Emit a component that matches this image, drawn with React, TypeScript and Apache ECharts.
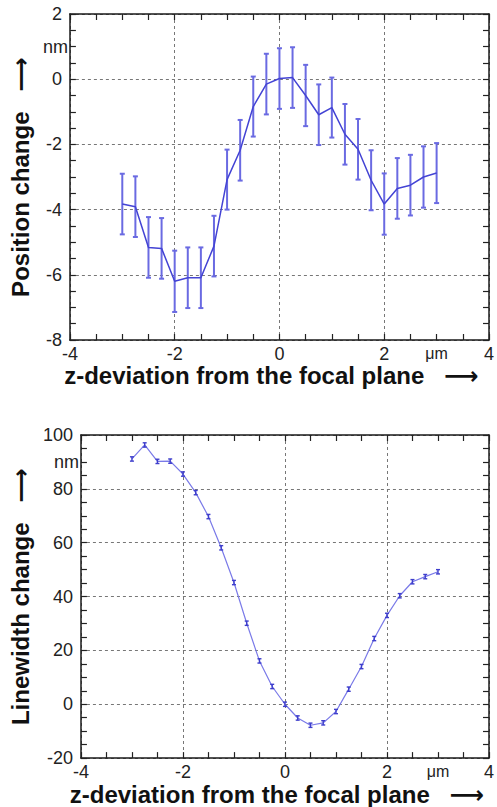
import React, { useEffect, useRef } from "react";
import * as echarts from "echarts";

const zValues = [-3, -2.75, -2.5, -2.25, -2, -1.75, -1.5, -1.25, -1, -0.75, -0.5, -0.25, 0, 0.25, 0.5, 0.75, 1, 1.25, 1.5, 1.75, 2, 2.25, 2.5, 2.75, 3];

const positionChange = [-3.83, -3.91, -5.16, -5.19, -6.2, -6.09, -6.09, -5.12, -3.08, -2.18, -0.84, -0.15, 0.02, 0.05, -0.5, -1.09, -0.87, -1.69, -2.15, -3.1, -3.83, -3.35, -3.25, -3.0, -2.88];
const positionError = [0.93, 0.93, 0.93, 0.93, 0.94, 0.93, 0.93, 0.93, 0.92, 0.93, 0.92, 0.93, 0.93, 0.93, 0.94, 0.93, 0.92, 0.93, 0.93, 0.92, 0.94, 0.93, 0.93, 0.94, 0.92];

const linewidthChange = [91.1, 96.3, 90.2, 90.3, 85.5, 78.6, 69.7, 58.1, 45.2, 30.1, 16.1, 6.6, 0.0, -5.1, -7.8, -6.9, -2.7, 5.6, 14.0, 24.4, 33.0, 40.3, 45.5, 47.4, 49.2];
const linewidthError = [0.8, 0.8, 0.8, 0.8, 0.8, 0.8, 0.8, 0.8, 0.8, 0.8, 0.8, 0.8, 0.8, 0.8, 0.8, 0.8, 0.8, 0.8, 0.8, 0.8, 0.8, 0.8, 0.8, 0.8, 0.8];

const xTickLabels = [-4, -2, 0, 2, 4];
const xUnitLabel = "μm";
const yUnitLabel = "nm";
const topYTickLabels = [-8, -6, -4, -2, 0, 2];
const bottomYTickLabels = [-20, 0, 20, 40, 60, 80, 100];

const FONT = "'Liberation Sans', Arial, 'DejaVu Sans', sans-serif";
const AXIS_COLOR = "#1a1a1a";
const TICK = { color: "#222", width: 1.2 };

function xAxesFor(gridIndex: number, name: string) {
  return [
    {
      type: "value",
      gridIndex,
      position: "bottom",
      min: -4,
      max: 4,
      interval: 0.5,
      name,
      nameLocation: "middle",
      nameGap: 19,
      nameTextStyle: { fontSize: 24, fontWeight: "bold", color: "#111", fontFamily: FONT, padding: [0, 16, 0, 0] },
      axisLine: { show: true, onZero: false, lineStyle: { color: AXIS_COLOR, width: 1.5 } },
      axisTick: { show: true, inside: true, length: 6, lineStyle: TICK },
      axisLabel: {
        margin: 5,
        fontSize: 18,
        color: "#222",
        fontFamily: FONT,
        formatter: (v: number) => {
          if (Math.abs(v - 3) < 1e-9) return "{u|" + xUnitLabel + "}";
          const hit = xTickLabels.find((t) => Math.abs(t - v) < 1e-9);
          return hit !== undefined ? String(hit) : "";
        },
        rich: { u: { fontSize: 16, color: "#222", fontFamily: FONT, padding: [0, 0, 4, 0] } },
      },
      splitLine: { show: false },
    },
    {
      type: "value",
      gridIndex,
      position: "top",
      min: -4,
      max: 4,
      interval: 2,
      axisLine: { show: true, onZero: false, lineStyle: { color: AXIS_COLOR, width: 1.5 } },
      axisTick: { show: true, inside: true, length: 6, lineStyle: TICK },
      minorTick: { show: true, splitNumber: 4, length: 6, lineStyle: TICK },
      axisLabel: { show: false },
      splitLine: { show: true, lineStyle: { color: "#777", type: [3, 3], width: 1 } },
    },
  ];
}

function yAxesFor(gridIndex: number, name: string, min: number, max: number, minor: number, major: number, labels: number[], unitValue: number) {
  return [
    {
      type: "value",
      gridIndex,
      position: "left",
      min,
      max,
      interval: minor,
      name,
      nameLocation: "middle",
      nameGap: 25,
      nameTextStyle: { fontSize: 24, fontWeight: "bold", color: "#111", fontFamily: FONT },
      axisLine: { show: true, onZero: false, lineStyle: { color: AXIS_COLOR, width: 1.5 } },
      axisTick: { show: true, inside: true, length: 6, lineStyle: TICK },
      axisLabel: {
        margin: 8,
        fontSize: 18,
        color: "#222",
        fontFamily: FONT,
        formatter: (v: number) => {
          if (Math.abs(v - unitValue) < 1e-9) return "{u|" + yUnitLabel + "}";
          const hit = labels.find((t) => Math.abs(t - v) < 1e-9);
          return hit !== undefined ? String(hit) : "";
        },
        rich: { u: { fontSize: 18, color: "#222", fontFamily: FONT, padding: [0, -6, 0, 0] } },
      },
      splitLine: { show: false },
    },
    {
      type: "value",
      gridIndex,
      position: "right",
      min,
      max,
      interval: major,
      axisLine: { show: true, onZero: false, lineStyle: { color: AXIS_COLOR, width: 1.5 } },
      axisTick: { show: true, inside: true, length: 6, lineStyle: TICK },
      minorTick: { show: true, splitNumber: 4, length: 6, lineStyle: TICK },
      axisLabel: { show: false },
      splitLine: { show: true, lineStyle: { color: "#777", type: [3, 3], width: 1 } },
    },
  ];
}

function errorRender(color: string, capHalf: number, width: number) {
  return (params: any, api: any) => {
    const x = api.value(0);
    const lo = api.coord([x, api.value(1)]);
    const hi = api.coord([x, api.value(2)]);
    const style = { stroke: color, lineWidth: width };
    return {
      type: "group",
      children: [
        { type: "line", shape: { x1: lo[0], y1: lo[1], x2: hi[0], y2: hi[1] }, style },
        { type: "line", shape: { x1: lo[0] - capHalf, y1: lo[1], x2: lo[0] + capHalf, y2: lo[1] }, style },
        { type: "line", shape: { x1: hi[0] - capHalf, y1: hi[1], x2: hi[0] + capHalf, y2: hi[1] }, style },
      ],
    };
  };
}

export default function App() {
  const ref = useRef<HTMLDivElement>(null);

  useEffect(() => {
    if (!ref.current) return;
    const chart = echarts.init(ref.current, null, { renderer: "svg" });

    const topLine = zValues.map((z, i) => [z, positionChange[i]]);
    const topErr = zValues.map((z, i) => [z, positionChange[i] - positionError[i], positionChange[i] + positionError[i]]);
    const botLine = zValues.map((z, i) => [z, linewidthChange[i]]);
    const botErr = zValues.map((z, i) => [z, linewidthChange[i] - linewidthError[i], linewidthChange[i] + linewidthError[i]]);

    chart.setOption({
      animation: false,
      backgroundColor: "#ffffff",
      grid: [
        { left: 61, top: 14, width: 433, height: 326, containLabel: false },
        { left: 63, top: 435, width: 431, height: 327, containLabel: false },
      ],
      xAxis: [
        ...xAxesFor(0, "z-deviation from the focal plane   ⟶"),
        ...xAxesFor(1, "z-deviation from the focal plane   ⟶"),
      ],
      yAxis: [
        ...yAxesFor(0, "Position change   ⟶", -8, 2, 0.5, 2, topYTickLabels, 1),
        ...yAxesFor(1, "Linewidth change   ⟶", -20, 100, 5, 20, bottomYTickLabels, 90),
      ],
      series: [
        {
          type: "custom",
          xAxisIndex: 0,
          yAxisIndex: 0,
          renderItem: errorRender("#6a6ae2", 2.5, 2),
          encode: { x: 0, y: [1, 2] },
          data: topErr,
          z: 2,
        },
        {
          type: "line",
          xAxisIndex: 0,
          yAxisIndex: 0,
          data: topLine,
          showSymbol: false,
          lineStyle: { color: "#4343d4", width: 1.5 },
          z: 3,
        },
        {
          type: "line",
          xAxisIndex: 2,
          yAxisIndex: 2,
          data: botLine,
          showSymbol: false,
          lineStyle: { color: "#7a7ae8", width: 1.2 },
          z: 2,
        },
        {
          type: "custom",
          xAxisIndex: 2,
          yAxisIndex: 2,
          renderItem: errorRender("#3e3ecc", 2, 1.4),
          encode: { x: 0, y: [1, 2] },
          data: botErr,
          z: 3,
        },
      ],
    });

    return () => chart.dispose();
  }, []);

  return <div ref={ref} style={{ position: "absolute", left: 0, top: 0, width: 497, height: 807 }} />;
}
